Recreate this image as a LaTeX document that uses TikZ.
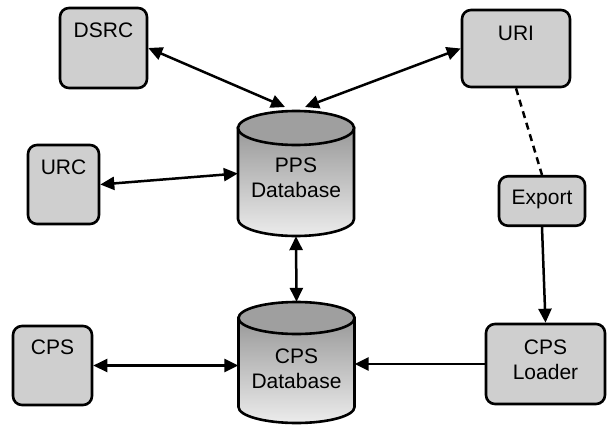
\documentclass[tikz,border=0pt]{standalone}
\usepackage{fontspec}
\setmainfont{Liberation Sans}
\usetikzlibrary{arrows.meta}
\begin{document}
\begin{tikzpicture}[x=1pt,y=-1pt,
  lbl/.style={font=\fontsize{21}{25}\selectfont},
  box/.style={lbl, draw, line width=2.6pt, rounded corners=9pt, fill=gray!38,
    inner sep=0pt, align=center, text height=29.5pt},
  dbshape/.style={inner sep=0pt, minimum width=116pt},
  dblabel/.style={lbl, align=center, inner sep=0pt},
  dbbody/.style={draw, line width=2.6pt, top color=gray!80, bottom color=gray!15},
  dbtop/.style={draw, line width=2.6pt, fill=gray!75},
  link/.style={line width=2.5pt, {Triangle[length=14pt,width=13pt]}-{Triangle[length=14pt,width=13pt]}},
  tolink/.style={line width=2.5pt, -{Triangle[length=14pt,width=13pt]}},
  dashlink/.style={line width=2.5pt, dash pattern=on 7pt off 5pt}
]
\useasboundingbox (0,0) rectangle (608,426);

% boxes
\node[box, minimum width=87pt, text depth=50.5pt] (dsrc) at (103.5,48) {DSRC};
\node[box, minimum width=108pt, text depth=47pt, text height=30pt] (uri) at (516,48.5) {URI};
\node[box, minimum width=71pt, text depth=49.5pt] (urc) at (63.5,184.5) {URC};
\node[box, minimum width=86pt, text depth=21.5pt, text height=28pt] (export) at (542,201) {Export};
\node[box, minimum width=79pt, text depth=50.5pt, text height=28.5pt] (cps) at (52.5,365.5) {CPS};
\node[box, minimum width=119pt, text depth=24.5pt, text height=55.5pt] (loader) at (545.5,364) {CPS\\Loader};

% PPS database cylinder
\shadedraw[dbbody] (238,128) -- (238,219)
  arc[start angle=180, end angle=360, x radius=58pt, y radius=17pt] -- (354,128) -- cycle;
\draw[dbtop] (296,128) ellipse[x radius=58pt, y radius=17pt];
\node[dbshape, minimum height=125pt] (pps) at (296,173.5) {};
\node[dblabel] (ppslabel) at (296,177.5) {PPS\\Database};

% CPS database cylinder
\shadedraw[dbbody] (238.5,318) -- (238.5,407)
  arc[start angle=180, end angle=360, x radius=58pt, y radius=16pt] -- (354.5,318) -- cycle;
\draw[dbtop] (296.5,318) ellipse[x radius=58pt, y radius=16pt];
\node[dbshape, minimum height=122pt] (cpsdb) at (296.5,363) {};
\node[dblabel] (cpsdblabel) at (296.5,368.5) {CPS\\Database};

% connectors
\coordinate (ppsL) at (285,107);
\coordinate (ppsR) at (305,107);
\draw[link] (dsrc.east) -- (ppsL);
\draw[link] (uri.west) -- (ppsR);
\draw[link] (urc.east) -- (pps.west);
\draw[link] (pps.south) -- (cpsdb.north);
\draw[link] (cps.east) -- (cps.east -| cpsdb.west);
\draw[tolink] (loader.west) -- (loader.west -| cpsdb.east);
\draw[dashlink] (uri.south) -- (export.north);
\draw[tolink] (export.south) -- (loader.north);
\end{tikzpicture}
\end{document}
